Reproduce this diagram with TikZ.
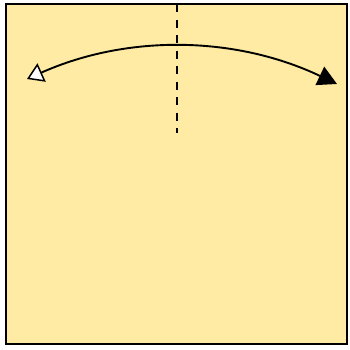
\documentclass[tikz,border=0pt]{standalone}
\usetikzlibrary{arrows.meta}
\definecolor{paper}{HTML}{FFEBA3}
\begin{document}
\begin{tikzpicture}[x=1pt,y=-1pt,
  edgeline/.style={line width=1.8pt,black},
  foldline/.style={line width=1.8pt,dash pattern=on 8pt off 7.5pt},
  swing/.style={line width=1.9pt,{Triangle[open,length=16pt,width=20pt,line width=1.5pt,fill=white]}-{Triangle[length=19pt,width=20pt]}}]
\useasboundingbox (0,0) rectangle (350,349);
\draw[edgeline,fill=paper] (6,4) rectangle (347,344);
\coordinate (ftop) at (177,4);
\coordinate (fbot) at (177,133);
\draw[foldline] (ftop) -- (fbot);
\coordinate (a) at (27,79);
\coordinate (b) at (337,84);
\draw[swing] (a) .. controls (128,34) and (236,36) .. (b);
\end{tikzpicture}
\end{document}
